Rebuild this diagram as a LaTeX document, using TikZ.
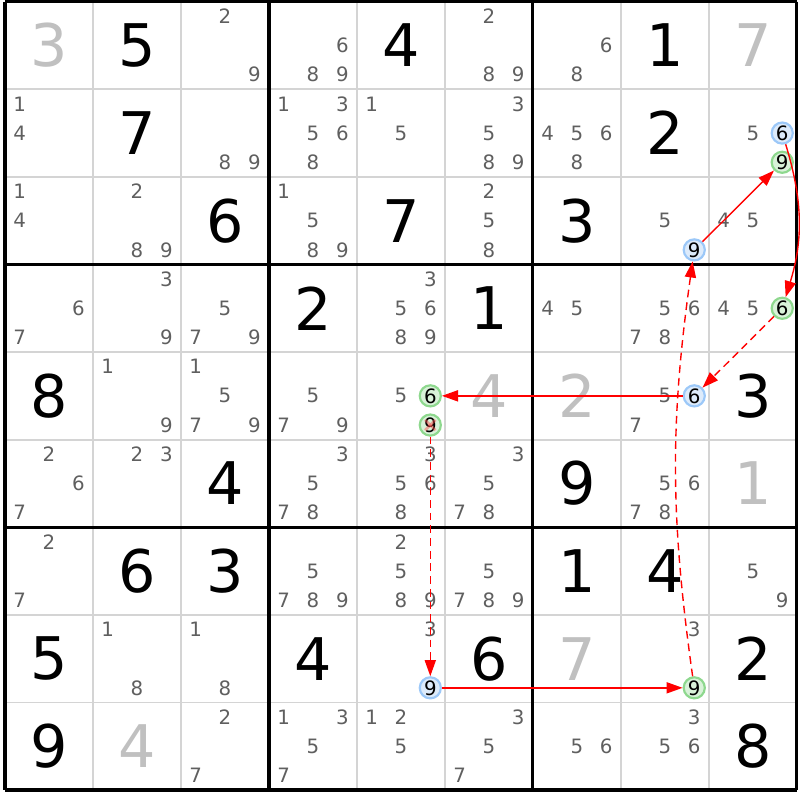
\documentclass[tikz,border=0pt]{standalone}
\usepackage{fontspec}
\setmainfont{DejaVu Sans}
\usetikzlibrary{arrows.meta}
\tikzset{>={Triangle[length=5.2pt,width=3.6pt]}}
\definecolor{candgray}{HTML}{5F5F5F}
\definecolor{givengray}{HTML}{C0C0C0}
\definecolor{gridgray}{HTML}{D4D4D4}
\definecolor{online}{HTML}{9CC8F8}
\definecolor{onfill}{HTML}{DDEBFB}
\definecolor{offline}{HTML}{8ED88E}
\definecolor{offfill}{HTML}{D9F2D9}

\begin{document}
\begin{tikzpicture}[x=1cm,y=-0.9955cm,
    given/.style = {font=\fontsize{19pt}{19pt}\selectfont, text=black},
    faded/.style = {given, text=givengray},
    cand/.style = {font=\fontsize{6.4pt}{6.4pt}\selectfont, text=candgray, inner sep=0pt},
    on/.style = {cand, circle, draw=online, fill=onfill, line width=0.7pt, minimum size=0.24cm, text=black},
    off/.style = {on, draw=offline, fill=offfill},
    box/.style = {line width=1pt},
    thinline/.style = {draw=gridgray, line width=0.6pt},
    link/.style = {draw=red, line width=0.45pt, ->},
    weak/.style = {link, dash pattern=on 2.5pt off 1.6pt},
    strike/.style = {draw=red!70, opacity=0.45, line width=0.9pt, shorten >=1.4pt, shorten <=1.4pt}]
\useasboundingbox (-0.057,-0.0194) rectangle (9.034,9.114);
\foreach \i in {1,2,4,5,7,8}
    \draw[thinline] (\i,0) -- (\i,9) (0,\i) -- (9,\i);
\foreach \i in {0,3,6,9}
    \draw[box] (\i,0) -- (\i,9) (0,\i) -- (9,\i);

\foreach \r/\c/\v in {0/1/5,0/4/4,0/7/1,1/1/7,1/7/2,2/2/6,2/4/7,2/6/3,3/3/2,3/5/1,4/0/8,4/8/3,
    5/2/4,5/6/9,6/1/6,6/2/3,6/6/1,6/7/4,7/0/5,7/3/4,7/5/6,7/8/2,8/0/9,8/8/8}
    \node[given] (g\r\c) at (\c+0.5,\r+0.5) {\v};
\foreach \r/\c/\v in {0/0/3,0/8/7,4/5/4,4/6/2,5/8/1,7/6/7,8/1/4}
    \node[faded] (g\r\c) at (\c+0.5,\r+0.5) {\v};

\foreach \r/\c/\ds in {0/2/{2,9},0/3/{6,8,9},0/5/{2,8,9},0/6/{6,8},
    1/0/{1,4},1/2/{8,9},1/3/{1,3,5,6,8},1/4/{1,5},1/5/{3,5,8,9},1/6/{4,5,6,8},1/8/{5},
    2/0/{1,4},2/1/{2,8,9},2/3/{1,5,8,9},2/5/{2,5,8},2/7/{5},2/8/{4,5},
    3/0/{6,7},3/1/{3,9},3/2/{5,7,9},3/4/{3,5,6,8,9},3/6/{4,5},3/7/{5,6,7,8},3/8/{4,5},
    4/1/{1,9},4/2/{1,5,7,9},4/3/{5,7,9},4/4/{5},4/7/{5,7},
    5/0/{2,6,7},5/1/{2,3},5/3/{3,5,7,8},5/4/{3,5,6,8},5/5/{3,5,7,8},5/7/{5,6,7,8},
    6/0/{2,7},6/3/{5,7,8,9},6/4/{2,5,8,9},6/5/{5,7,8,9},6/8/{5,9},
    7/1/{1,8},7/2/{1,8},7/4/{3},7/7/{3},
    8/2/{2,7},8/3/{1,3,5,7},8/4/{1,2,5},8/5/{3,5,7},8/6/{5,6},8/7/{3,5,6}}
    \foreach \d in \ds
        \node[cand] (n\r\c\d) at ({\c+(mod(\d-1,3)+0.5)/3},{\r+(floor((\d-1)/3)+0.5)/3}) {\d};

\foreach \r/\c/\d/\s in {1/8/6/on,1/8/9/off,2/7/9/on,3/8/6/off,4/7/6/on,
    4/4/6/off,4/4/9/off,7/4/9/on,7/7/9/off}
    \node[\s] (n\r\c\d) at ({\c+(mod(\d-1,3)+0.5)/3},{\r+(floor((\d-1)/3)+0.5)/3}) {\d};
\draw[strike] (n449.north west) -- (n449.south east);
\draw[strike] (n449.north east) -- (n449.south west);

\draw[link] (n279) -- (n189);
\draw[link] (n186) to[bend left=17] (n386);
\draw[weak] (n386) -- (n476);
\draw[link] (n476) -- (n446);
\draw[weak] (n449) -- (n749);
\draw[link] (n749) -- (n779);
\draw[weak] (n779) to[bend left=8] (n279);
\end{tikzpicture}
\end{document}
